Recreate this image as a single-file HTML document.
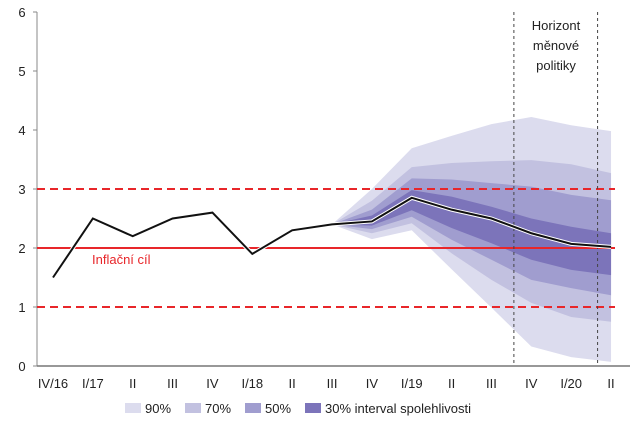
<!DOCTYPE html>
<html><head><meta charset="utf-8"><style>
body{margin:0;background:#fff;}
svg{font-family:"Liberation Sans",sans-serif;}
</style></head><body>
<svg id="chart" width="640" height="429"></svg>
<script>
const categories=["IV/16","I/17","II","III","IV","I/18","II","III","IV","I/19","II","III","IV","I/20","II"];
const actual=[1.5,2.5,2.2,2.5,2.6,1.9,2.3,2.4,2.45,2.85,2.65,2.5,2.25,2.07,2.02];
const fanStart=7;
const up90=[2.4,3.0,3.69,3.9,4.1,4.22,4.08,3.98];
const lo90=[2.4,2.15,2.3,1.64,0.99,0.33,0.15,0.07];
const up70=[2.4,2.8,3.37,3.44,3.47,3.49,3.42,3.27];
const lo70=[2.4,2.25,2.42,1.91,1.46,1.07,0.83,0.75];
const up50=[2.4,2.65,3.18,3.16,3.1,3.04,2.9,2.81];
const lo50=[2.4,2.32,2.53,2.14,1.8,1.46,1.32,1.2];
const up30=[2.4,2.55,2.98,2.87,2.7,2.5,2.36,2.25];
const lo30=[2.4,2.38,2.64,2.34,2.08,1.8,1.63,1.54];
const yTicks=[0,1,2,3,4,5,6];
const target=2, tolLo=1, tolHi=3;
const legendLabels=["90%","70%","50%","30% interval spolehlivosti"];
const colors=["#dcdcee","#c2c1e0","#a09dcf","#7c74ba"];

const NS="http://www.w3.org/2000/svg";
const svg=document.getElementById('chart');
const x=i=>53+i*39.86;
const y=v=>366-v*59;
function mk(t,a,p){const e=document.createElementNS(NS,t);for(const k in a)e.setAttribute(k,a[k]);(p||svg).appendChild(e);return e;}

const bands=[[up90,lo90],[up70,lo70],[up50,lo50],[up30,lo30]];
bands.forEach((b,k)=>{
  let pts=b[0].map((v,j)=>x(fanStart+j)+","+y(v));
  let lp=b[1].map((v,j)=>x(fanStart+j)+","+y(v)).reverse();
  const p=mk('polygon',{points:pts.concat(lp).join(' '),fill:colors[k]});
  
  
});
const ax=mk('line',{x1:37,y1:12,x2:37,y2:366,stroke:'#888','stroke-width':1});

yTicks.forEach(t=>{
  mk('line',{x1:33,y1:y(t),x2:37,y2:y(t),stroke:'#888'});
  const tx=mk('text',{x:22,y:y(t)+5,'font-size':13,fill:'#222','text-anchor':'middle'});tx.textContent=t;
  
});
const xa=mk('line',{x1:37,y1:366,x2:630,y2:366,stroke:'#777','stroke-width':1.5});

categories.forEach((c,i)=>{
  const tx=mk('text',{x:x(i),y:388,'font-size':13,fill:'#222','text-anchor':'middle'});tx.textContent=c;
  
});
[tolHi,tolLo].forEach(v=>{
  const l=mk('line',{x1:37,y1:y(v),x2:615,y2:y(v),stroke:'#e8262a','stroke-width':2,'stroke-dasharray':'8 5'});
  
});
const tl=mk('line',{x1:37,y1:y(target),x2:615,y2:y(target),stroke:'#e8262a','stroke-width':2});

const tt=mk('text',{x:92,y:y(target)+16,'font-size':13,fill:'#e8262a'});tt.textContent='Inflační cíl';

[12.05,14.15].forEach(i=>{
  const l=mk('line',{x1:x(i-0.5)+0.5,y1:12,x2:x(i-0.5)+0.5,y2:366,stroke:'#444','stroke-width':1,'stroke-dasharray':'3 3'});
  
});
['Horizont','měnové','politiky'].forEach((s,k)=>{
  const t=mk('text',{x:556,y:30+k*20,'font-size':13,fill:'#222','text-anchor':'middle'});t.textContent=s;
  
});
const pts=actual.map((v,i)=>x(i)+","+y(v)).join(' ');
mk('polyline',{points:pts,fill:'none',stroke:'#fff','stroke-width':4});
const pl=mk('polyline',{points:pts,fill:'none',stroke:'#111','stroke-width':2});

const lx=[125,185,245,305];
legendLabels.forEach((s,k)=>{
  const g=mk('g',{});
  
  mk('rect',{x:lx[k],y:403,width:16,height:10,fill:colors[k]},g);
  const t=mk('text',{x:lx[k]+20,y:413,'font-size':13,fill:'#222'},g);t.textContent=s;
});
</script>
</body></html>
